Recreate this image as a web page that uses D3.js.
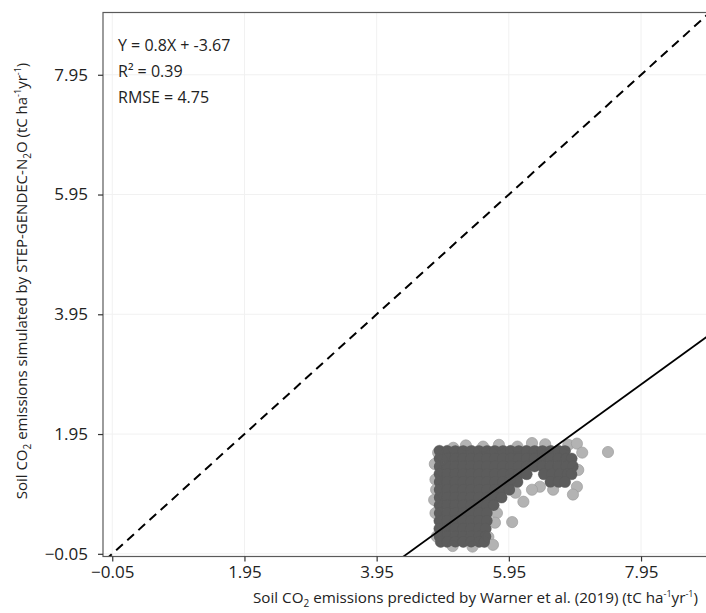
<!DOCTYPE html>
<html>
<head>
<meta charset="utf-8">
<script src="https://cdn.jsdelivr.net/npm/d3@7"></script>
<style>
  body { margin: 0; background: #fff; }
  text { font-family: "Open Sans", sans-serif; }
</style>
</head>
<body>
<div id="chart"></div>
<script>
// tick values (both axes use the same breaks)
const xTicks = [-0.05, 1.95, 3.95, 5.95, 7.95];
const yTicks = [-0.05, 1.95, 3.95, 5.95, 7.95];

// fitted line as drawn, and the stats printed in the corner
const fitSlope = 0.8;
const fitIntercept = -3.58;
const statLines = ["Y = 0.8X + -3.67", "R\u00b2 = 0.39", "RMSE = 4.75"];

// dense part of the point cloud, read row by row (y value, x values)
const coreRows = [
  {y: 1.67, x: [4.90, 5.02, 5.14, 5.26, 5.38, 5.50, 5.62, 5.74, 5.86, 5.98, 6.10, 6.22, 6.34, 6.46, 6.58, 6.70, 6.80]},
  {y: 1.54, x: [4.90, 5.02, 5.14, 5.26, 5.38, 5.50, 5.62, 5.74, 5.86, 5.98, 6.10, 6.22, 6.34, 6.46, 6.58, 6.70, 6.82, 6.90]},
  {y: 1.41, x: [4.90, 5.02, 5.14, 5.26, 5.38, 5.50, 5.62, 5.74, 5.86, 5.98, 6.10, 6.22, 6.34, 6.46, 6.58, 6.70, 6.82, 6.92]},
  {y: 1.28, x: [4.90, 5.02, 5.14, 5.26, 5.38, 5.50, 5.62, 5.74, 5.86, 5.98, 6.10, 6.22, 6.48, 6.60, 6.72, 6.84, 6.90]},
  {y: 1.15, x: [4.90, 5.02, 5.14, 5.26, 5.38, 5.50, 5.62, 5.74, 5.86, 5.98, 6.08, 6.58, 6.70, 6.80]},
  {y: 1.02, x: [4.90, 5.02, 5.14, 5.26, 5.38, 5.50, 5.62, 5.74, 5.86, 5.96]},
  {y: 0.89, x: [4.90, 5.02, 5.14, 5.26, 5.38, 5.50, 5.62, 5.74, 5.84]},
  {y: 0.76, x: [4.90, 5.02, 5.14, 5.26, 5.38, 5.50, 5.62, 5.72]},
  {y: 0.63, x: [4.90, 5.02, 5.14, 5.26, 5.38, 5.50, 5.62]},
  {y: 0.50, x: [4.90, 5.02, 5.14, 5.26, 5.38, 5.50, 5.62]},
  {y: 0.37, x: [4.90, 5.02, 5.14, 5.26, 5.38, 5.50, 5.60]},
  {y: 0.24, x: [4.90, 5.02, 5.14, 5.26, 5.38, 5.50, 5.60]},
  {y: 0.15, x: [4.92, 5.02, 5.14, 5.26, 5.38, 5.50, 5.58]}
];

// loose points around the edge of the cloud
const edgePoints = [
  [4.88, 1.64], [4.94, 1.52], [4.83, 1.45], [4.84, 1.19], [4.85, 1.02], [4.82, 0.85],
  [4.84, 0.63], [4.86, 0.24], [5.10, 0.08], [5.40, 0.07],
  [5.11, 1.72], [5.30, 1.76], [5.56, 1.74], [5.80, 1.77], [6.08, 1.74], [6.30, 1.80], [6.50, 1.78],
  [6.85, 1.77], [6.98, 1.79], [7.06, 1.64], [7.45, 1.65],
  [7.00, 1.35], [6.98, 1.07], [6.92, 0.94],
  [6.62, 1.02], [6.42, 1.07], [6.30, 1.02], [6.17, 0.82], [6.05, 0.97], [5.97, 1.19],
  [6.00, 0.48], [5.77, 0.63], [5.74, 0.47], [5.64, 0.23], [5.71, 0.10]
];

const W = 706, H = 613;
const margin = {top: 12.5, left: 103};
const pw = 620, ph = 544;

const svg = d3.select("#chart").append("svg")
    .attr("width", W)
    .attr("height", H);

const x = d3.scaleLinear().domain([-0.19, 9.19]).range([margin.left, margin.left + pw]);
const y = d3.scaleLinear().domain([-0.095, 8.99]).range([margin.top + ph, margin.top]);

svg.append("defs").append("clipPath")
    .attr("id", "panel")
  .append("rect")
    .attr("x", margin.left).attr("y", margin.top)
    .attr("width", pw).attr("height", ph);

// faint major grid
const grid = svg.append("g").attr("stroke", "#f1f1f1").attr("stroke-width", 1);
grid.selectAll("line.v").data(xTicks).join("line")
    .attr("class", "v")
    .attr("x1", d => x(d)).attr("x2", d => x(d))
    .attr("y1", margin.top).attr("y2", margin.top + ph);
grid.selectAll("line.h").data(yTicks).join("line")
    .attr("class", "h")
    .attr("x1", margin.left).attr("x2", margin.left + pw)
    .attr("y1", d => y(d)).attr("y2", d => y(d));

const corePts = coreRows.flatMap(r => r.x.map(v => [v, r.y]));
const allPts = corePts.concat(edgePoints);

const plot = svg.append("g").attr("clip-path", "url(#panel)");

// light layer: every point
plot.append("g")
    .attr("opacity", 0.5)
  .selectAll("circle")
  .data(allPts)
  .join("circle")
    .attr("cx", d => x(d[0]))
    .attr("cy", d => y(d[1]))
    .attr("r", 5.6)
    .attr("fill", "#6a6a6a")
    .attr("stroke", "#3c3c3c")
    .attr("stroke-width", 0.7);

// dark layer: where points pile up
plot.append("g")
    .attr("opacity", 0.92)
  .selectAll("circle")
  .data(corePts)
  .join("circle")
    .attr("cx", d => x(d[0]))
    .attr("cy", d => y(d[1]))
    .attr("r", 5.6)
    .attr("fill", "#555");

// 1:1 line
const lo = -1, hi = 10;
plot.append("line")
    .attr("x1", x(lo)).attr("y1", y(lo))
    .attr("x2", x(hi)).attr("y2", y(hi))
    .attr("stroke", "#000")
    .attr("stroke-width", 2)
    .attr("stroke-dasharray", "9,6");

// fitted line
plot.append("line")
    .attr("x1", x(lo)).attr("y1", y(fitSlope * lo + fitIntercept))
    .attr("x2", x(hi)).attr("y2", y(fitSlope * hi + fitIntercept))
    .attr("stroke", "#000")
    .attr("stroke-width", 1.8);

// panel border (right side falls outside the picture)
svg.append("rect")
    .attr("x", margin.left).attr("y", margin.top)
    .attr("width", pw).attr("height", ph)
    .attr("fill", "none")
    .attr("stroke", "#5a5a5a")
    .attr("stroke-width", 1.2);

// axes
const xAxis = svg.append("g")
    .attr("transform", `translate(0,${margin.top + ph})`)
    .call(d3.axisBottom(x).tickValues(xTicks).tickFormat(d3.format(".2f")).tickSize(5).tickPadding(4));
const yAxis = svg.append("g")
    .attr("transform", `translate(${margin.left},0)`)
    .call(d3.axisLeft(y).tickValues(yTicks).tickFormat(d3.format(".2f")).tickSize(5).tickPadding(10));

[xAxis, yAxis].forEach(a => {
  a.select(".domain").remove();
  a.selectAll(".tick line").attr("stroke", "#333").attr("stroke-width", 1.2);
  a.selectAll(".tick text")
      .attr("fill", "#222")
      .style("font-size", "17px");
});

// stats text
svg.append("g").selectAll("text")
  .data(statLines)
  .join("text")
    .attr("x", 118)
    .attr("y", (d, i) => 51 + i * 26)
    .attr("fill", "#222")
    .style("font-size", "16px")
    .text(d => d);

// axis titles with sub/superscripts (shifts in px so they cancel out)
function sup(t, s) {
  t.append("tspan").attr("dy", -6).style("font-size", "9px").text(s);
  return t.append("tspan").attr("dy", 6);
}
function sub(t, s) {
  t.append("tspan").attr("dy", 4).style("font-size", "10px").text(s);
  return t.append("tspan").attr("dy", -4);
}
function unitParts(t) {
  t.append("tspan").text(" (tC ha");
  sup(t, "-1").text("yr");
  sup(t, "-1").text(")");
}

const xt = svg.append("text")
    .attr("x", 253)
    .attr("y", 603)
    .attr("fill", "#222")
    .style("font-size", "15.2px");
xt.append("tspan").text("Soil CO");
sub(xt, "2").text(" emissions predicted by Warner et al. (2019)");
unitParts(xt);

const yt = svg.append("text")
    .attr("transform", "translate(27,281) rotate(-90)")
    .attr("text-anchor", "middle")
    .attr("fill", "#222")
    .style("font-size", "15px");
yt.append("tspan").text("Soil CO");
sub(yt, "2").text(" emissions simulated by STEP-GENDEC-N");
sub(yt, "2").text("O");
unitParts(yt);
</script>
</body>
</html>
